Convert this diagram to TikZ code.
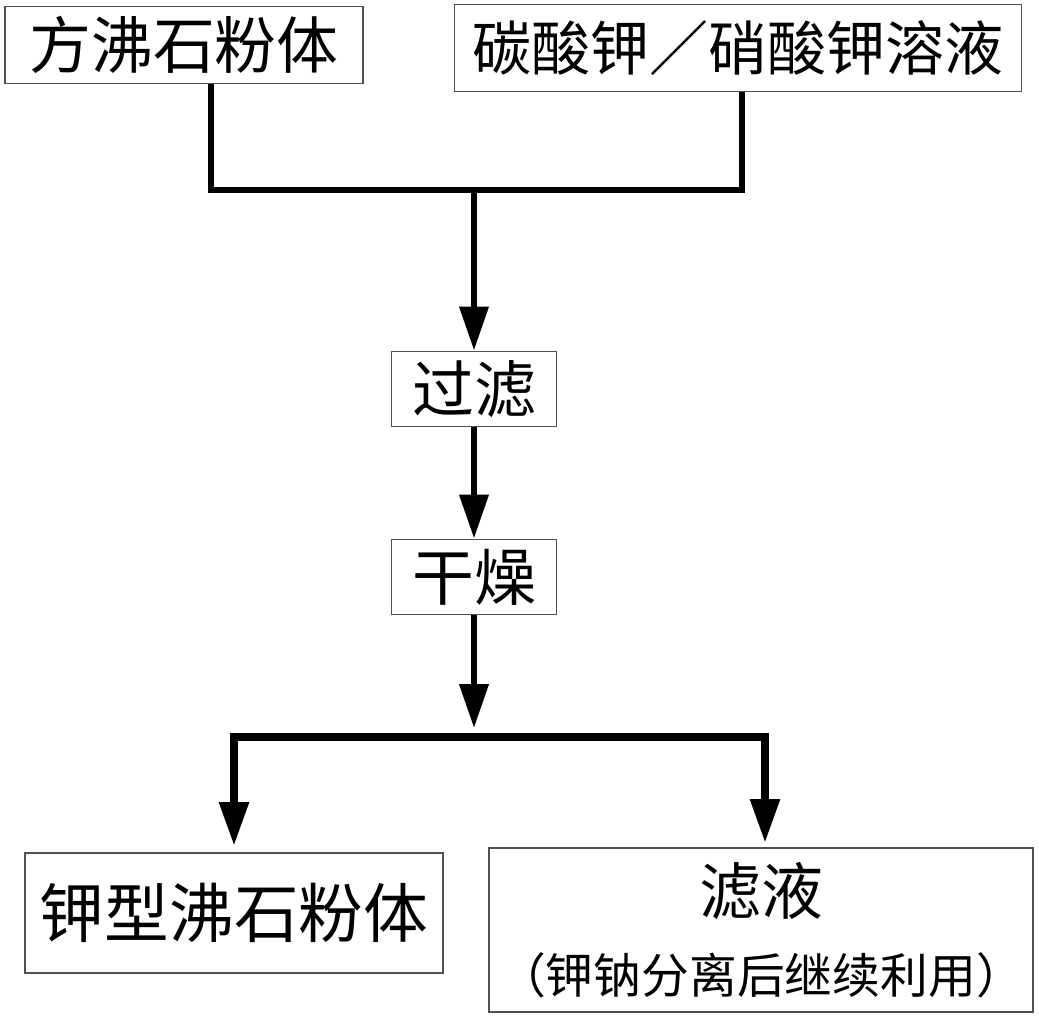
\documentclass[tikz,border=0pt]{standalone}
\usepackage{fontspec}
\setmainfont{Noto Sans CJK SC}
\usetikzlibrary{arrows.meta,positioning}
\definecolor{boxgray}{HTML}{505050}
\tikzstyle{box} = [rectangle, 
draw=boxgray, 
line width=1.2pt, 
inner sep=0pt, 
text centered, 
font=\fontsize{44}{52}\selectfont]
\tikzstyle{line} = [line width=4.5pt]
\tikzstyle{arrow} = [line width=4.8pt,-{Triangle[length=1.1cm,width=0.7cm]}]

\begin{document}
\begin{tikzpicture}[x=0.025cm,y=-0.025cm,node distance=4.7cm]
                \useasboundingbox (0,0) rectangle (1039,1018);
                \node[box, minimum width=8.95cm, minimum height=1.925cm] (powder) at (184,45) {方沸石粉体};
                \node[box, minimum width=14.175cm, minimum height=2.175cm, font=\fontsize{42}{52}\selectfont] (solution) at (738,48) {碳酸钾／硝酸钾溶液};
                \coordinate (join) at (474,190);
                \node[box, minimum width=4.125cm, minimum height=1.875cm] (filter) at (474,389) {过滤};
                \node[box, minimum width=4.125cm, minimum height=1.875cm, below of=filter] (dry) {干燥};
                \coordinate (split) at (474,737);
                \node[box, minimum width=10.45cm, minimum height=3cm, font=\fontsize{46}{52}\selectfont] (product) at (234,913) {钾型沸石粉体};
                \node[box, minimum width=13.6cm, minimum height=4.1cm, align=center] (filtrate) at (761,930) {滤液\\[0.15cm]{\fontsize{34}{40}\selectfont （钾钠分离后继续利用）}};

                \draw[line] ([xshift=0.675cm]powder.south) |- (join) -| ([xshift=0.1cm]solution.south);
                \draw[arrow] (join) -- (filter);
                \draw[arrow] (filter) -- (dry);
                \draw[arrow, shorten >=0.22cm] (dry) -- (split);
                \draw[arrow, line width=6pt, shorten >=0.15cm] (split) -| (product);
                \draw[arrow, line width=6pt, shorten >=0.1cm] (split) -| ([xshift=0.1cm]filtrate.north);
            \end{tikzpicture}
\end{document}
